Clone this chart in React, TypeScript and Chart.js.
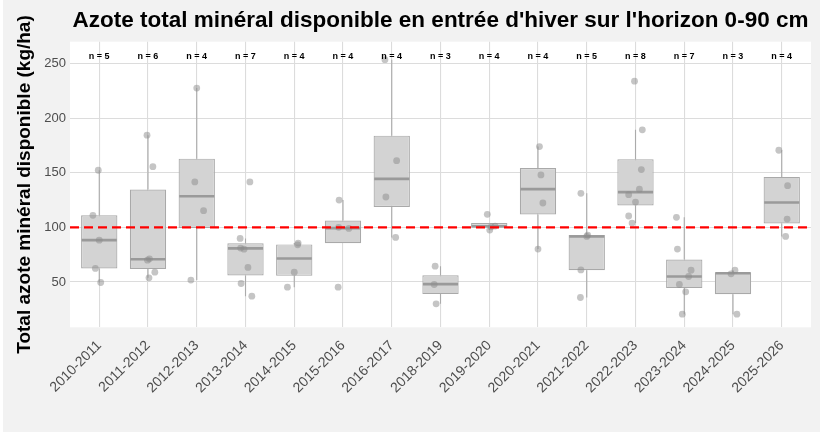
import { useEffect, useRef } from "react";
import { Chart, registerables } from "chart.js";

Chart.register(...registerables);

const SEASONS = [
  "2010-2011", "2011-2012", "2012-2013", "2013-2014", "2014-2015",
  "2015-2016", "2016-2017", "2018-2019", "2019-2020", "2020-2021",
  "2021-2022", "2022-2023", "2023-2024", "2024-2025", "2025-2026",
];

const N_COUNTS = [5, 6, 4, 7, 4, 4, 4, 3, 4, 4, 5, 8, 7, 3, 4];

const Q1 = [62.4, 61.8, 99.4, 55.9, 55.6, 85.5, 118.6, 38.9, 99.8, 111.8, 60.8, 120.0, 44.4, 38.8, 103.6];
const MEDIAN = [88.3, 70.8, 128.5, 80.8, 71.5, 99.3, 144.4, 48.0, 101.0, 135.0, 91.7, 132.3, 55.0, 58.0, 122.8];
const Q3 = [111.0, 134.6, 162.9, 85.4, 84.4, 106.3, 184.0, 56.2, 103.9, 154.3, 92.9, 162.4, 70.5, 58.8, 146.2];
const WHISKER_LOW = [49.5, 53.8, 51.7, 37.0, 45.2, 85.5, 90.8, 30.0, 97.5, 80.1, 35.8, 103.9, 20.5, 20.5, 91.7];
const WHISKER_HIGH = [152.3, 184.4, 227.5, 89.9, 85.6, 125.0, 253.5, 64.5, 103.9, 174.0, 131.2, 189.3, 109.2, 60.8, 170.6];

const POINTS: number[][] = [
  [152.3, 111.0, 88.3, 62.4, 49.5],
  [184.4, 155.6, 71.2, 70.0, 59.0, 53.8],
  [227.5, 141.6, 115.3, 51.7],
  [141.6, 89.9, 81.0, 80.0, 63.3, 48.6, 37.0],
  [85.6, 84.0, 59.0, 45.2],
  [125.0, 100.0, 99.0, 45.2],
  [253.5, 161.1, 127.8, 90.8],
  [64.5, 47.7, 30.0],
  [111.9, 101.2, 100.5, 97.5],
  [174.0, 148.0, 122.3, 80.1],
  [131.2, 92.9, 91.7, 61.0, 35.8],
  [233.9, 189.3, 152.9, 134.9, 129.9, 123.2, 110.4, 103.9],
  [109.2, 80.1, 60.8, 55.0, 47.7, 41.0, 20.5],
  [60.8, 57.5, 20.5],
  [170.6, 138.2, 107.6, 91.7],
];

const JITTER: number[][] = [
  [-0.02, -0.13, 0.0, -0.08, 0.03],
  [-0.02, 0.1, 0.03, -0.01, 0.14, 0.02],
  [0.0, -0.04, 0.14, -0.12],
  [0.09, -0.11, -0.1, -0.03, 0.05, -0.09, 0.13],
  [0.08, 0.07, 0.0, -0.14],
  [-0.08, -0.09, 0.12, -0.1],
  [-0.14, 0.1, -0.12, 0.08],
  [-0.11, -0.13, -0.09],
  [-0.04, 0.12, 0.04, 0.01],
  [0.03, 0.06, 0.1, 0.0],
  [-0.12, 0.02, 0.0, -0.12, -0.13],
  [-0.02, 0.14, 0.12, 0.08, -0.14, 0.0, -0.14, -0.07],
  [-0.16, -0.14, 0.14, 0.09, -0.1, 0.03, -0.04],
  [0.04, -0.04, 0.08],
  [-0.06, 0.12, 0.11, 0.08],
];

const Y_TICKS = [50, 100, 150, 200, 250];
const REFERENCE_LINE = 100;
const N_LABEL_Y = 256.5;

const TITLE = "Azote total minéral disponible en entrée d'hiver sur l'horizon 0-90 cm";
const Y_TITLE = "Total azote minéral disponible (kg/ha)";

const FONT = "'Liberation Sans', Arial, Helvetica, sans-serif";
const GRID = "#dcdcdc";
const BOX_FILL = "#d3d3d3";
const BOX_BORDER = "#a9a9a9";
const WHISKER = "#ababab";
const MEDIAN_COLOR = "#9a9a9a";

export default function App() {
  const ref = useRef<HTMLCanvasElement>(null);

  useEffect(() => {
    document.body.style.margin = "0";
    const canvas = ref.current;
    if (!canvas) return;

    const BOX_INDEX = 1;

    const extras = {
      id: "boxExtras",
      beforeDraw(chart: any) {
        const c = chart.ctx;
        const a = chart.chartArea;
        c.save();
        c.fillStyle = "#ffffff";
        c.fillRect(0, 0, chart.width, chart.height);
        c.fillStyle = "#f2f2f2";
        c.fillRect(3, 0, chart.width - 3, chart.height - 2);
        c.fillStyle = "#ffffff";
        c.fillRect(a.left, a.top, a.right - a.left, a.bottom - a.top);
        c.restore();
      },
      beforeDatasetDraw(chart: any, args: any) {
        if (args.index !== BOX_INDEX) return;
        const meta = chart.getDatasetMeta(BOX_INDEX);
        const y = chart.scales.y;
        const c = chart.ctx;
        c.save();
        c.strokeStyle = WHISKER;
        c.lineWidth = 1.1;
        meta.data.forEach((bar: any, i: number) => {
          const x = bar.x;
          c.beginPath();
          c.moveTo(x, y.getPixelForValue(Q3[i]));
          c.lineTo(x, y.getPixelForValue(WHISKER_HIGH[i]));
          c.moveTo(x, y.getPixelForValue(Q1[i]));
          c.lineTo(x, y.getPixelForValue(WHISKER_LOW[i]));
          c.stroke();
        });
        c.restore();
      },
      afterDatasetDraw(chart: any, args: any) {
        if (args.index !== BOX_INDEX) return;
        const meta = chart.getDatasetMeta(BOX_INDEX);
        const y = chart.scales.y;
        const c = chart.ctx;
        c.save();
        c.strokeStyle = MEDIAN_COLOR;
        c.lineWidth = 2.6;
        meta.data.forEach((bar: any, i: number) => {
          const half = bar.width / 2 - 0.6;
          const py = y.getPixelForValue(MEDIAN[i]);
          c.beginPath();
          c.moveTo(bar.x - half, py);
          c.lineTo(bar.x + half, py);
          c.stroke();
        });
        c.restore();
      },
      afterDatasetsDraw(chart: any) {
        const c = chart.ctx;
        const a = chart.chartArea;
        const x = chart.scales.x;
        const y = chart.scales.y;
        c.save();
        c.strokeStyle = "#ff0000";
        c.lineWidth = 2.4;
        c.setLineDash([9, 5]);
        const ry = y.getPixelForValue(REFERENCE_LINE);
        c.beginPath();
        c.moveTo(a.left, ry);
        c.lineTo(a.right, ry);
        c.stroke();
        c.setLineDash([]);
        c.fillStyle = "#000000";
        c.font = `bold 9px ${FONT}`;
        c.textAlign = "center";
        c.textBaseline = "middle";
        const ny = y.getPixelForValue(N_LABEL_Y);
        N_COUNTS.forEach((n, i) => {
          c.fillText(`n = ${n}`, x.getPixelForValue(i), ny);
        });
        c.restore();
      },
    };

    const pointData: { x: number; y: number }[] = [];
    POINTS.forEach((vals, i) => {
      vals.forEach((v, k) => pointData.push({ x: i + JITTER[i][k], y: v }));
    });

    const chart = new Chart(canvas, {
      type: "bar",
      data: {
        datasets: [
          {
            type: "scatter",
            label: "points",
            data: pointData,
            order: 0,
            backgroundColor: "rgba(140,140,140,0.5)",
            borderWidth: 0,
            pointRadius: 3.4,
          } as any,
          {
            type: "bar",
            label: "box",
            data: SEASONS.map((_, i) => ({ x: i, y: [Q1[i], Q3[i]] })),
            order: 1,
            backgroundColor: BOX_FILL,
            borderColor: BOX_BORDER,
            borderWidth: 1.2,
            borderSkipped: false,
            categoryPercentage: 1,
            barPercentage: 0.745,
          } as any,
        ],
      },
      options: {
        animation: false,
        responsive: false,
        devicePixelRatio: 1,
        layout: { padding: { left: 0, right: 9, top: 0, bottom: 0 } },
        plugins: {
          legend: { display: false },
          tooltip: { enabled: false },
          title: {
            display: true,
            text: TITLE,
            fullSize: false,
            color: "#000000",
            font: { family: FONT, size: 22.5, weight: "bold" },
            padding: { top: 7, bottom: 7.7 },
          },
        },
        scales: {
          x: {
            type: "linear",
            min: -0.6,
            max: 14.6,
            bounds: "data",
            offset: false,
            afterBuildTicks: (axis: any) => {
              axis.ticks = SEASONS.map((_, i) => ({ value: i }));
            },
            afterFit: (axis: any) => {
              axis.height = 106.7;
            },
            ticks: {
              autoSkip: false,
              maxRotation: 45,
              minRotation: 45,
              padding: 10,
              color: "#4d4d4d",
              font: { family: FONT, size: 14 },
              callback: (v: any) => SEASONS[Number(v)] ?? "",
            },
            grid: { color: GRID, lineWidth: 1.1, drawTicks: false, offset: false },
            border: { display: false },
          },
          y: {
            type: "linear",
            min: 8.5,
            max: 270,
            bounds: "data",
            afterBuildTicks: (axis: any) => {
              axis.ticks = Y_TICKS.map((v) => ({ value: v }));
            },
            afterFit: (axis: any) => {
              axis.width = 70;
            },
            ticks: {
              padding: 4,
              color: "#4d4d4d",
              font: { family: FONT, size: 13 },
            },
            grid: { color: GRID, lineWidth: 1.1, drawTicks: false },
            border: { display: false },
            title: {
              display: true,
              text: Y_TITLE,
              color: "#000000",
              font: { family: FONT, size: 19, weight: "bold" },
              padding: { top: 13, bottom: 0 },
            },
          },
        },
      } as any,
      plugins: [extras],
    });

    return () => chart.destroy();
  }, []);

  return (
    <div style={{ width: 820, height: 434 }}>
      <canvas ref={ref} width={820} height={434} style={{ display: "block" }} />
    </div>
  );
}
